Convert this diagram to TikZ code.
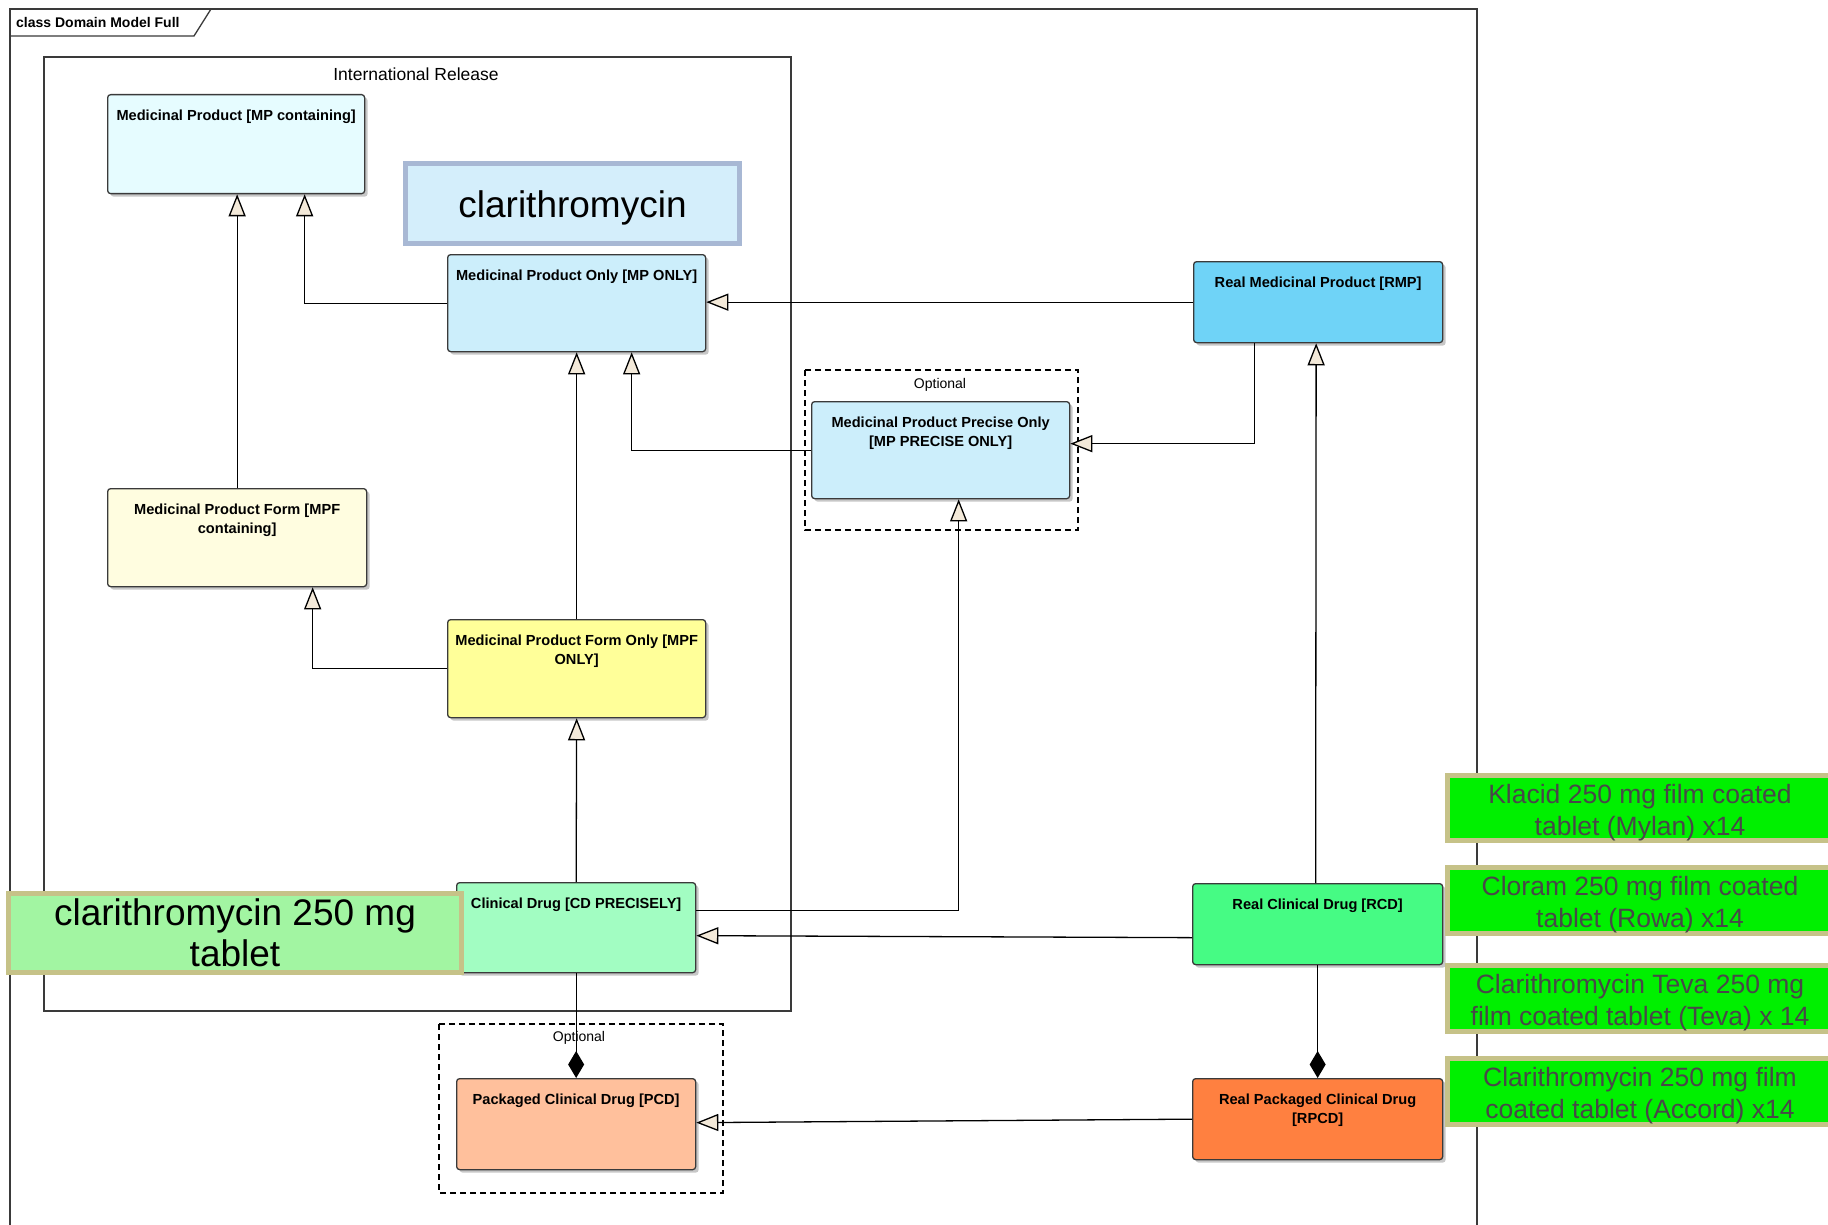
\documentclass[tikz,border=0pt]{standalone}
\usepackage{fontspec}
\setmainfont{Liberation Sans}
\usetikzlibrary{arrows.meta,shadows,calc}
\definecolor{arrowfill}{HTML}{F3E9D9}
\definecolor{boxline}{HTML}{3A3A3A}
\definecolor{cMPC}{HTML}{E6FCFF}
\definecolor{cMPO}{HTML}{CCEEFB}
\definecolor{cRMP}{HTML}{6FD3F7}
\definecolor{cMPFC}{HTML}{FFFDE0}
\definecolor{cMPFO}{HTML}{FFFF99}
\definecolor{cCD}{HTML}{A2FDC2}
\definecolor{cRCD}{HTML}{46FB84}
\definecolor{cPCD}{HTML}{FFC09C}
\definecolor{cRPCD}{HTML}{FF8040}
\definecolor{calloutblue}{HTML}{D4EEFB}
\definecolor{calloutblueline}{HTML}{A8B8D4}
\definecolor{calloutgreen}{HTML}{A2F5A2}
\definecolor{khaki}{HTML}{C6C288}
\definecolor{brightgreen}{HTML}{00F000}
\definecolor{greytext}{HTML}{484848}
\newcommand{\boxlabel}[3]{\parbox[c][#2pt][t]{#1pt}{\vspace*{15pt}\centering #3\par}}
\begin{document}
\begin{tikzpicture}[x=1pt,y=-1pt,
  umlbox/.style={draw=boxline, line width=1.3pt, rounded corners=3pt, inner sep=0pt, anchor=north west,
    drop shadow={shadow xshift=3pt, shadow yshift=-3pt, opacity=0.22, fill=black},
    font=\fontsize{14.6}{19}\selectfont\bfseries},
  gen/.style={draw=black, line width=1.3pt, -{Triangle[length=22pt,width=17pt,fill=arrowfill]}},
  comp/.style={draw=black, line width=1.3pt, -{Diamond[length=27pt,width=16pt,fill=black]}},
  optbox/.style={draw=black, line width=1.3pt, dash pattern=on 6pt off 4pt},
  optlabel/.style={inner sep=0pt, font=\fontsize{14}{16}\selectfont},
  bigcallout/.style={line width=5pt, inner sep=0pt, align=center},
  tradecallout/.style={draw=khaki, fill=brightgreen, line width=5pt, inner sep=0pt, align=center,
    minimum width=386pt, minimum height=63pt, text=greytext, font=\fontsize{26.5}{32}\selectfont}
]
\useasboundingbox (0,0) rectangle (1828,1225);
\fill[white] (0,0) rectangle (1828,1225);

% outer frame
\draw[line width=1.3pt, draw=boxline] (10,1240) -- (10,9) -- (1477,9) -- (1477,1240);
\draw[line width=1.3pt, draw=boxline] (10,36) -- (194,36) -- (211,9);
\node[anchor=west, inner sep=0pt, font=\fontsize{14}{16}\selectfont\bfseries] (frametitle) at (16,22) {class Domain Model Full};

% international release package
\draw[line width=1.3pt, draw=boxline] (44,57) rectangle (791,1011);
\node[inner sep=0pt, font=\fontsize{17.5}{20}\selectfont] (intlabel) at (416,74) {International Release};

% optional groups
\draw[optbox] (805,370) rectangle (1078,530);
\node[optlabel] (opt1) at (940,385) {Optional};
\draw[optbox] (439,1024) rectangle (723,1193);
\node[optlabel] (opt2) at (579,1038) {Optional};

% classes
\node[umlbox, fill=cMPC] (mpc) at (107,94) {\boxlabel{257}{99}{Medicinal Product {[}MP containing{]}}};
\node[umlbox, fill=cMPO] (mponly) at (447,254) {\boxlabel{258}{97}{Medicinal Product Only {[}MP ONLY{]}}};
\node[umlbox, fill=cRMP] (rmp) at (1193,261) {\boxlabel{249}{81}{Real Medicinal Product {[}RMP{]}}};
\node[umlbox, fill=cMPO] (mpp) at (811,401) {\boxlabel{258}{97}{Medicinal Product Precise Only\\{[}MP PRECISE ONLY{]}}};
\node[umlbox, fill=cMPFC] (mpfc) at (107,488) {\boxlabel{259}{98}{Medicinal Product Form {[}MPF\\containing{]}}};
\node[umlbox, fill=cMPFO] (mpfonly) at (447,619) {\boxlabel{258}{98}{Medicinal Product Form Only {[}MPF\\ONLY{]}}};
\node[umlbox, fill=cCD] (cd) at (456,882) {\boxlabel{239}{90}{Clinical Drug {[}CD PRECISELY{]}}};
\node[umlbox, fill=cRCD] (rcd) at (1192,883) {\boxlabel{250}{81}{Real Clinical Drug {[}RCD{]}}};
\node[umlbox, fill=cPCD] (pcd) at (456,1078) {\boxlabel{239}{91}{Packaged Clinical Drug {[}PCD{]}}};
\node[umlbox, fill=cRPCD] (rpcd) at (1192,1078) {\boxlabel{250}{81}{Real Packaged Clinical Drug\\{[}RPCD{]}}};

% connectors
\draw[gen] (mpfc.north) -- (mpfc.north |- mpc.south);
\draw[gen] (mponly.west) -| ([xshift=68.5pt]mpc.south);
\draw[gen] (rmp.west) -- (rmp.west -| mponly.east);
\draw[gen] (mpp.west) -| ([xshift=55pt]mponly.south);
\draw[gen] ([xshift=-63.5pt]rmp.south) |- ([yshift=6.5pt]mpp.east);
\draw[gen] (mpfonly.north) -- (mponly.south);
\draw[gen] (mpfonly.west) -| ([xshift=75.5pt]mpfc.south);
\draw[gen] (cd.north) -- (mpfonly.south);
\draw[gen] ([yshift=17pt]cd.east) -| ([xshift=18pt]mpp.south);
\draw[gen] ([yshift=-13.5pt]rcd.west) -- ([yshift=-8pt]cd.east);
\draw[gen] ([xshift=-2pt]rcd.north) -- ([xshift=-2pt]rmp.south);
\draw[comp] (rcd.south) -- (rpcd.north);
\draw[comp] (cd.south) -- (pcd.north);
\draw[gen] (rpcd.west) -- ([yshift=1.5pt]pcd.east);

% callouts
\node[bigcallout, draw=calloutblueline, fill=calloutblue, minimum width=334pt, minimum height=80pt,
  font=\fontsize{37}{42}\selectfont] (substance) at (572.5,203.5) {\rule{0pt}{35pt}clarithromycin};
\node[bigcallout, draw=khaki, fill=calloutgreen, minimum width=453pt, minimum height=79pt,
  font=\fontsize{37}{41}\selectfont] (cdcallout) at (235,933) {clarithromycin 250 mg\\tablet};
\node[tradecallout] (tp1) at (1640,808) {\rule{0pt}{28pt}Klacid 250 mg film coated\\tablet (Mylan) x14};
\node[tradecallout] (tp2) at (1640,900.5) {\rule{0pt}{28pt}Cloram 250 mg film coated\\tablet (Rowa) x14};
\node[tradecallout] (tp3) at (1640,998.5) {\rule{0pt}{28pt}Clarithromycin Teva 250 mg\\film coated tablet (Teva) x 14};
\node[tradecallout] (tp4) at (1640,1091.5) {\rule{0pt}{28pt}Clarithromycin 250 mg film\\coated tablet (Accord) x14};
\end{tikzpicture}
\end{document}
